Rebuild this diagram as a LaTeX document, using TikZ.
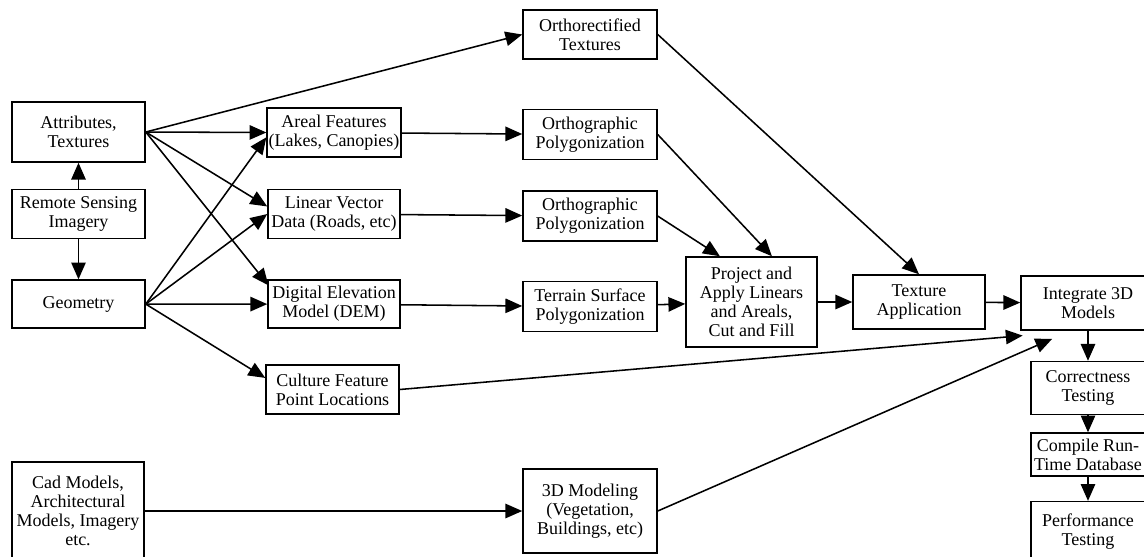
\documentclass[tikz,border=0pt]{standalone}
\usepackage{fontspec}
\setmainfont{Liberation Serif}
\usetikzlibrary{arrows.meta,positioning,calc}

\begin{document}
\begin{tikzpicture}[
	block/.style={
		draw,
		rectangle,
		line width=1.1pt,
		align=center,
		inner sep=1pt,
		minimum width=3.3cm,
		minimum height=1.225cm,
		font=\fontsize{12.8}{13.6}\selectfont
	},
	>={Triangle[length=0.42cm,width=0.36cm]},
	line width=1.1pt,
	]
	\useasboundingbox (0,0) rectangle (28.6,-13.9);
	\clip (0,0) rectangle (28.6,-13.9);
	
	% left column
	\node[block, minimum width=3.325cm, minimum height=1.5cm] (attr) at (1.9625,-3.3) {Attributes,\\Textures};
	\node[block, minimum width=3.325cm, below=0.65cm of attr] (rsi) {Remote Sensing\\Imagery};
	\node[block, minimum width=3.325cm, minimum height=1.2cm, below=1cm of rsi] (geom) {Geometry};
	\node[block, minimum height=2.45cm] (cad) at (1.95,-12.775) {Cad Models,\\Architectural\\Models, Imagery\\etc.};
	
	% second column
	\node[block] (areal) at (8.35,-3.3125) {Areal Features\\(Lakes, Canopies)};
	\node[block, below=0.775cm of areal] (linear) {Linear Vector\\Data (Roads, etc)};
	\node[block, minimum height=1.2cm, below=1cm of linear] (dem) {Digital Elevation\\Model (DEM)};
	\node[block, minimum width=3.325cm] (culture) at (8.3125,-9.7375) {Culture Feature\\Point Locations};
	
	% third column
	\node[block, minimum width=3.35cm] (ortho) at (14.75,-0.8625) {Orthorectified\\Textures};
	\node[block, minimum width=3.35cm, minimum height=1.25cm, below=1.225cm of ortho] (opoly1) {Orthographic\\Polygonization};
	\node[block, minimum width=3.35cm, minimum height=1.25cm, below=0.75cm of opoly1] (opoly2) {Orthographic\\Polygonization};
	\node[block, minimum width=3.35cm, minimum height=1.25cm, below=0.975cm of opoly2] (terrain) {Terrain Surface\\Polygonization};
	\node[block, minimum width=3.35cm, minimum height=2.1cm] (model3d) at (14.75,-12.775) {3D Modeling\\(Vegetation,\\Buildings, etc)};
	
	% right part
	\node[block, minimum width=3.275cm, minimum height=2.25cm] (project) at (18.7875,-7.55) {Project and\\Apply Linears\\and Areals,\\Cut and Fill};
	\node[block, minimum height=1.35cm] (texture) at (22.975,-7.55) {Texture\\Application};
	\node[block, minimum width=3.35cm, minimum height=1.35cm] (integrate) at (27.2,-7.575) {Integrate 3D\\Models};
	\node[block, minimum width=2.85cm, minimum height=1.325cm, below=0.75cm of integrate] (correct) {Correctness\\Testing};
	\node[block, minimum width=2.85cm, minimum height=1.075cm, below=0.425cm of correct] (compile) {Compile Run-\\Time Database};
	\node[block, minimum width=2.85cm, minimum height=1.5cm, below=0.6cm of compile] (perf) {Performance\\Testing};
	
	% connectors
	\draw[->] (rsi) to (attr);
	\draw[->] (rsi) to (geom);
	\draw[->] (attr.east) to (ortho.west);
	\draw[->] (attr.east) to (areal.west);
	\draw[->] (attr.east) to ($(linear.west)+(0,0.19)$);
	\draw[->] (attr.east) to ($(dem.north west)+(0.03,-0.15)$);
	\draw[->] (geom.east) to ($(areal.west)+(0,-0.12)$);
	\draw[->] (geom.east) to (linear.west);
	\draw[->] (geom.east) to (dem.west);
	\draw[->] (geom.east) to ($(culture.west)+(0,0.29)$);
	\draw[->] (areal) to (opoly1);
	\draw[->] (linear) to (opoly2);
	\draw[->] (dem) to (terrain);
	\draw[->] (cad) to (model3d);
	\draw[->] (ortho.east) to (texture.north);
	\draw[->] (opoly1.east) to ($(project.north)+(0.51,0)$);
	\draw[->] (opoly2.east) to ($(project.north)+(-0.79,0)$);
	\draw[->] (terrain) to (project);
	\draw[->] (project) to (texture);
	\draw[->] (texture) to (integrate);
	\draw[->] (culture.east) to ($(integrate.south west)+(0.06,-0.12)$);
	\draw[->] (model3d.east) to ($(integrate.south west)+(0.8,-0.2)$);
	\draw[->] (integrate) to (correct);
	\draw[->] (correct) to (compile);
	\draw[->] (compile) to (perf);
\end{tikzpicture}
\end{document}
